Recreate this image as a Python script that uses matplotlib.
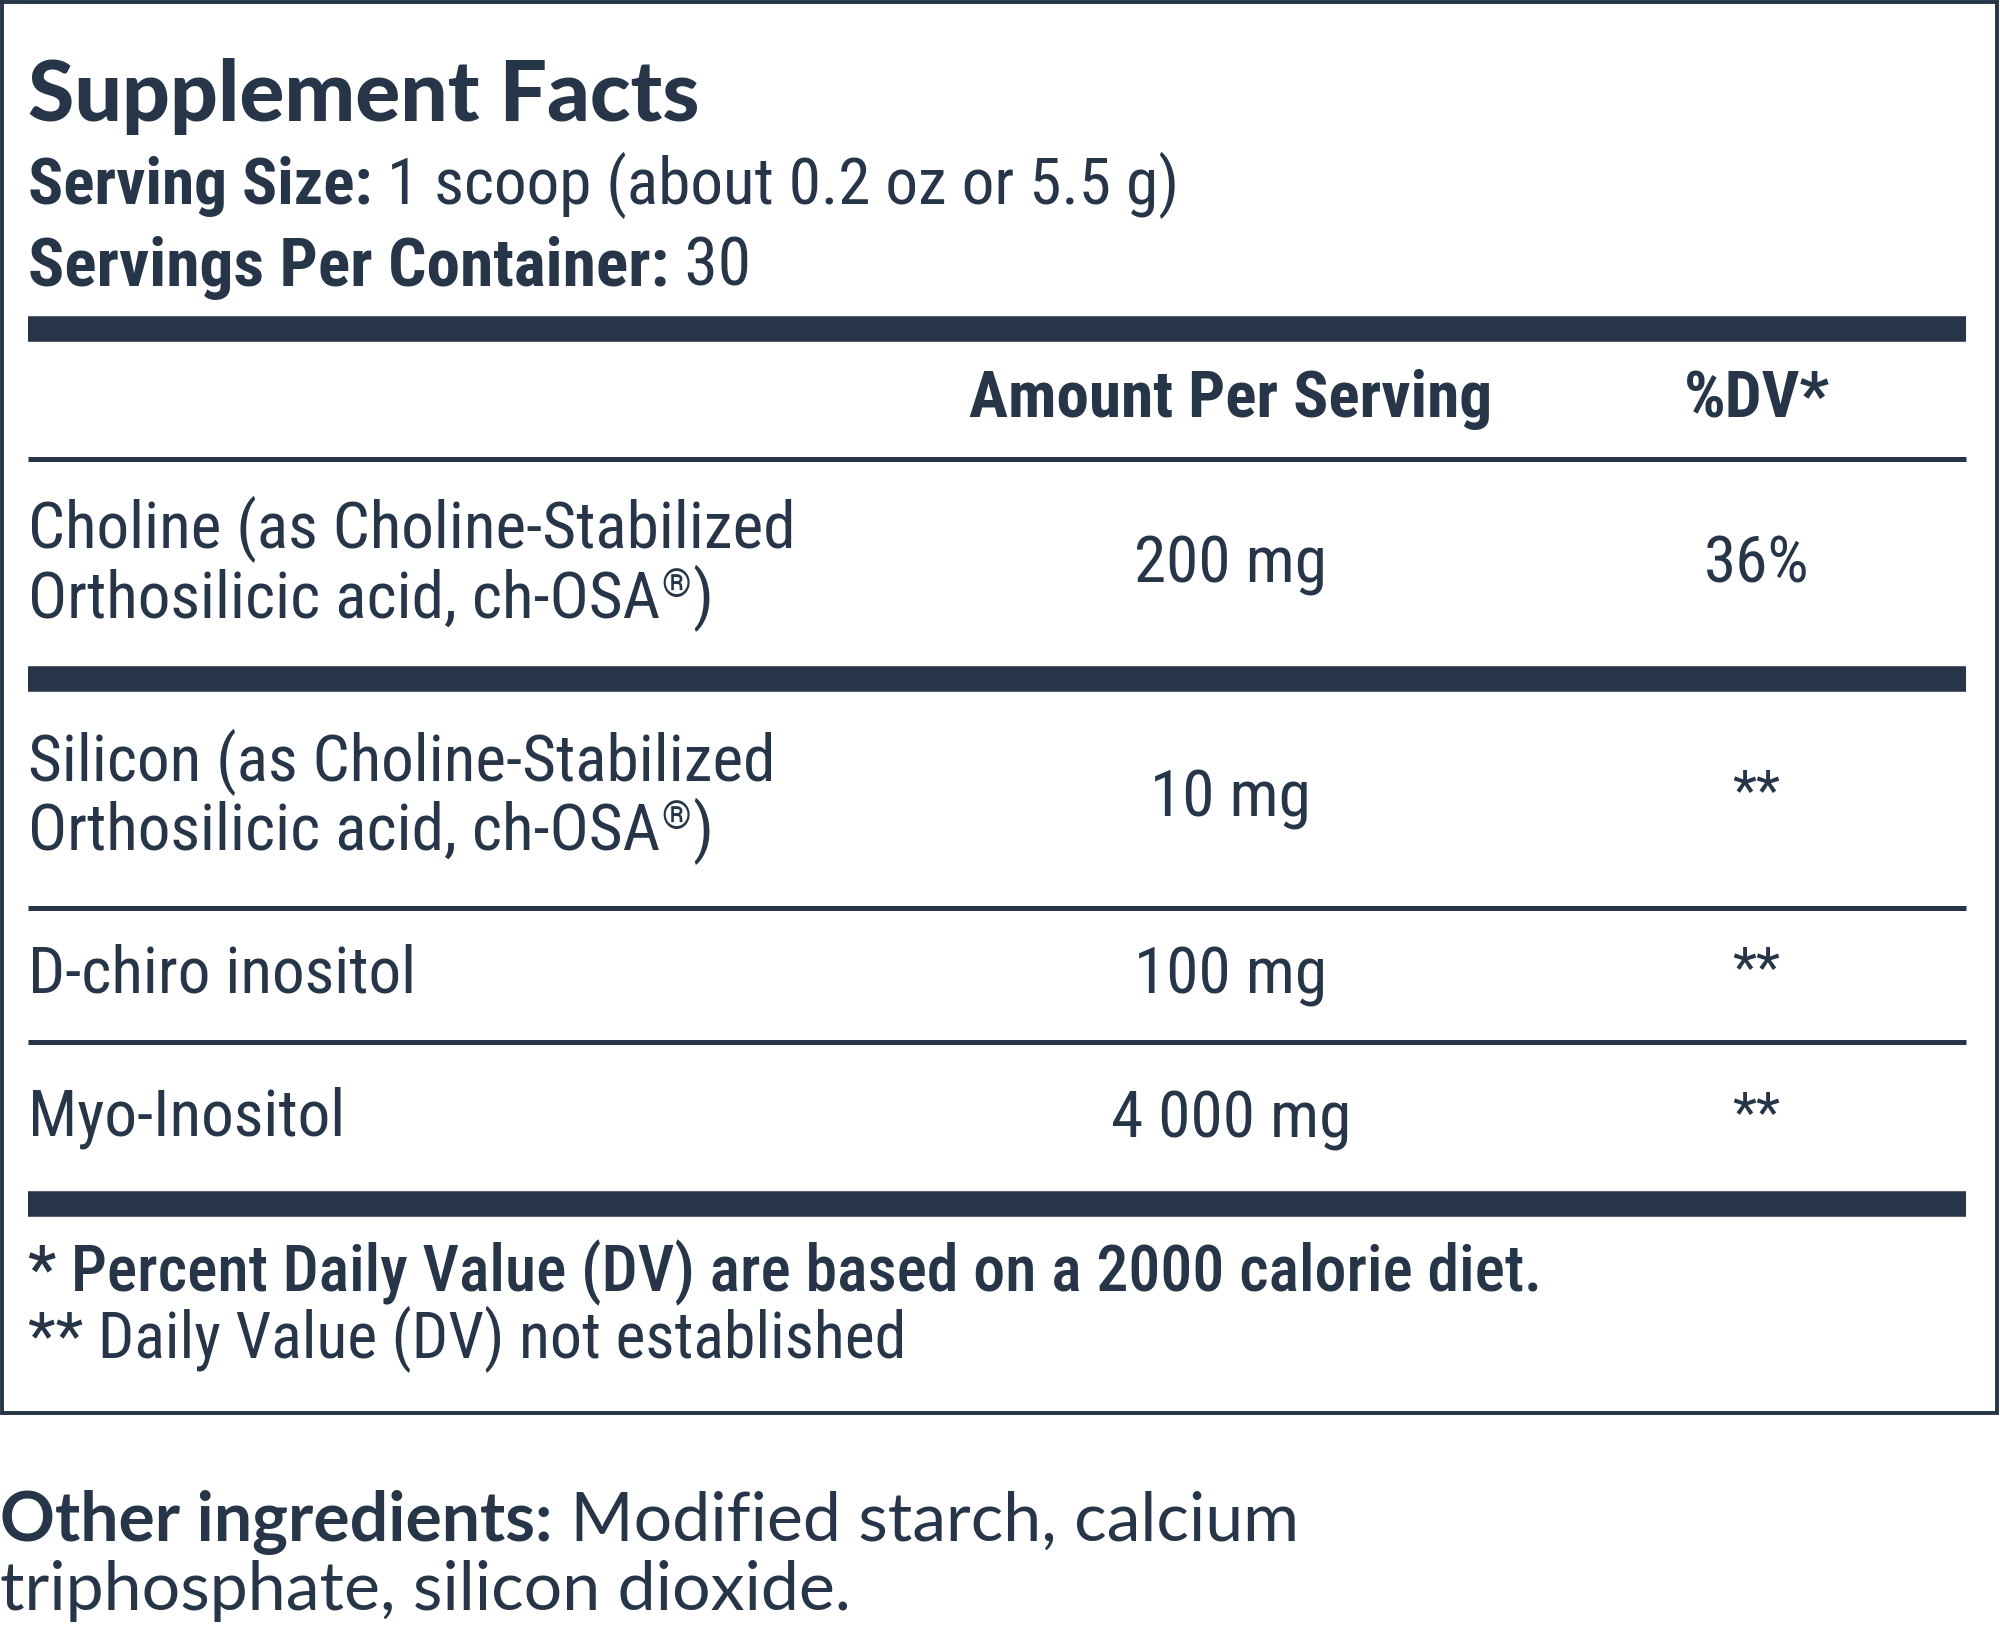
import matplotlib
matplotlib.use("Agg")
import matplotlib.pyplot as plt

# Label content
title = "Supplement Facts"
serving_size = "1 scoop (about 0.2 oz or 5.5 g)"
servings_per_container = "30"
col_headers = ["Amount Per Serving", "%DV*"]

ingredients = [
    ["Choline (as Choline-Stabilized", "Orthosilicic acid, ch-OSA"],
    ["Silicon (as Choline-Stabilized", "Orthosilicic acid, ch-OSA"],
    ["D-chiro inositol"],
    ["Myo-Inositol"],
]
registered = [True, True, False, False]
amounts = ["200 mg", "10 mg", "100 mg", "4 000 mg"]
daily_values = ["36%", "**", "**", "**"]

footnotes = ["* Percent Daily Value (DV) are based on a 2000 calorie diet.",
             "** Daily Value (DV) not established"]
other_label = "Other ingredients:"
other_text = [" Modified starch, calcium", "triphosphate, silicon dioxide."]

ink = "#263547"
narrow = ["Roboto Condensed", "DejaVu Sans"]
plain = ["Lato", "DejaVu Sans"]

W, H = 1568, 1277
fig = plt.figure(figsize=(20, 16.29), dpi=100)
ax = fig.add_axes([0, 0, 1, 1])
ax.set_xlim(0, W)
ax.set_ylim(H, 0)
ax.axis("off")
renderer = fig.canvas.get_renderer()


def runs(x, y, parts, size, family=narrow):
    # parts: list of (text, weight[, size]); drawn one after another on a baseline
    for part in parts:
        txt, weight = part[0], part[1]
        fs = part[2] if len(part) > 2 else size
        t = ax.text(x, y, txt, fontsize=fs, fontweight=weight, family=family,
                    color=ink, va="baseline", ha="left")
        bb = t.get_window_extent(renderer)
        x = ax.transData.inverted().transform((bb.x1, bb.y0))[0]
    return x


# outer box
ax.plot([1.5, W - 2, W - 2, 1.5, 1.5], [1.5, 1.5, 1108, 1108, 1.5],
        color=ink, lw=2.8, solid_joinstyle="miter")

# heading
ax.text(22, 95, title, fontsize=60.5, fontweight="black", family=plain,
        color=ink, va="baseline")
runs(22, 160, [("Serving Size:", "bold"), (" " + serving_size, "normal")], 47)
runs(22, 224, [("Servings Per Container:", "bold", 48.5),
               (" " + servings_per_container, "normal", 48.5)], 47)

x0, x1 = 22, 1541
col_amt, col_dv = 965, 1377


def thick(y):
    ax.hlines(y, x0, x1, color=ink, lw=18.4)


def thin(y):
    ax.hlines(y, x0, x1, color=ink, lw=3.6)


thick(258)
ax.text(col_amt, 327, col_headers[0], fontsize=47, fontweight="bold",
        family=narrow, color=ink, ha="center", va="baseline")
ax.text(col_dv, 327, col_headers[1], fontsize=47, fontweight="bold",
        family=narrow, color=ink, ha="center", va="baseline")
thin(360)

name_base = [[430, 484], [612, 666], [778], [890]]
value_base = [457, 640, 779, 892]
separators = [("thick", 532), ("thin", 712), ("thin", 817), ("thick", 944)]

for i, lines in enumerate(ingredients):
    for j, line in enumerate(lines):
        xe = runs(22, name_base[i][j], [(line, "normal")], 47)
        if registered[i] and j == len(lines) - 1:
            t = ax.text(xe + 1, name_base[i][j] - 16, "\u00ae", fontsize=27,
                        family=narrow, color=ink, va="baseline")
            bb = t.get_window_extent(renderer)
            xr = ax.transData.inverted().transform((bb.x1, bb.y0))[0]
            ax.text(xr + 1, name_base[i][j], ")", fontsize=47,
                    family=narrow, color=ink, va="baseline")
    ax.text(col_amt, value_base[i], amounts[i], fontsize=47, family=narrow,
            color=ink, ha="center", va="baseline")
    dv_size = 47 if daily_values[i] != "**" else 40
    dv_y = value_base[i] if daily_values[i] != "**" else value_base[i] - 5
    ax.text(col_dv, dv_y, daily_values[i], fontsize=dv_size,
            family=narrow, color=ink, ha="center", va="baseline")
    kind, ys = separators[i]
    thick(ys) if kind == "thick" else thin(ys)

# footnotes
ax.text(22, 1012, footnotes[0], fontsize=46, fontweight="medium",
        family=narrow, color=ink, va="baseline")
ax.text(22, 1065, footnotes[1], fontsize=46, family=narrow, color=ink,
        va="baseline")

# other ingredients
runs(0, 1208, [(other_label, "bold"), (other_text[0], "normal")], 49, plain)
runs(0, 1262, [(other_text[1], "normal")], 49, plain)

fig.savefig("out.png", dpi=100, facecolor="white")
